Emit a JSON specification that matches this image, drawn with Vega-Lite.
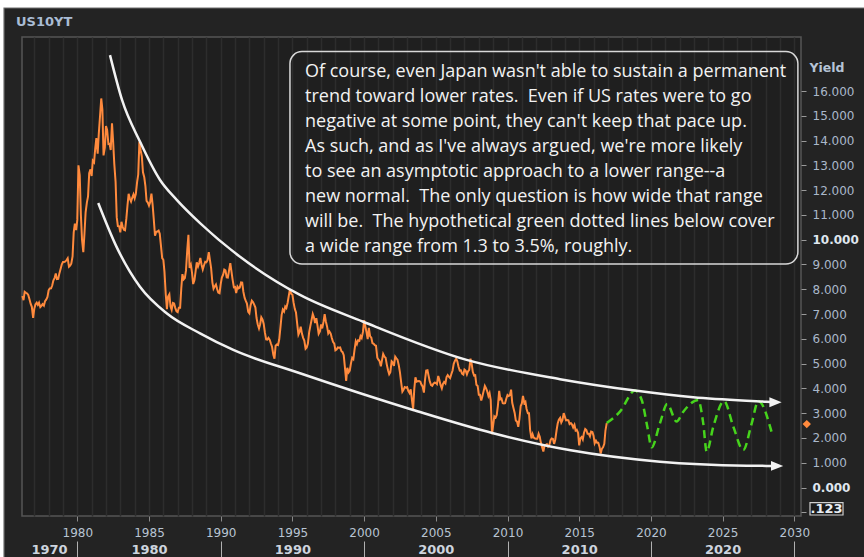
{
  "$schema": "https://vega.github.io/schema/vega-lite/v6.json",
  "width": 779,
  "height": 479,
  "autosize": "none",
  "padding": {"left": 22, "top": 37, "right": 63, "bottom": 41},
  "background": "#232323",
  "config": {
    "font": "DejaVu Sans",
    "view": {"fill": "#1f1f1f", "stroke": "#555555", "strokeWidth": 1.5},
    "axis": {"labelFont": "DejaVu Sans", "labelFontSize": 12, "grid": false, "domain": false}
  },
  "datasets": {
    "yld": [
      {"t":1976.17,"v":7.73},{"t":1976.25,"v":7.56},{"t":1976.33,"v":7.90},{"t":1976.42,"v":7.86},{"t":1976.50,"v":7.83},{"t":1976.58,"v":7.77},{"t":1976.67,"v":7.59},{"t":1976.75,"v":7.41},{"t":1976.83,"v":7.29},{"t":1976.92,"v":6.85},
      {"t":1977.00,"v":7.21},{"t":1977.08,"v":7.39},{"t":1977.17,"v":7.46},{"t":1977.25,"v":7.37},{"t":1977.33,"v":7.46},{"t":1977.42,"v":7.28},{"t":1977.50,"v":7.33},{"t":1977.58,"v":7.40},{"t":1977.67,"v":7.34},{"t":1977.75,"v":7.52},{"t":1977.83,"v":7.58},{"t":1977.92,"v":7.69},
      {"t":1978.00,"v":7.96},{"t":1978.08,"v":8.03},{"t":1978.17,"v":8.04},{"t":1978.25,"v":8.15},{"t":1978.33,"v":8.35},{"t":1978.42,"v":8.46},{"t":1978.50,"v":8.64},{"t":1978.58,"v":8.41},{"t":1978.67,"v":8.42},{"t":1978.75,"v":8.64},{"t":1978.83,"v":8.81},{"t":1978.92,"v":9.01},
      {"t":1979.00,"v":9.10},{"t":1979.08,"v":9.10},{"t":1979.17,"v":9.12},{"t":1979.25,"v":9.18},{"t":1979.33,"v":9.25},{"t":1979.42,"v":8.91},{"t":1979.50,"v":8.95},{"t":1979.58,"v":9.03},{"t":1979.67,"v":9.33},{"t":1979.75,"v":10.30},{"t":1979.83,"v":10.65},{"t":1979.92,"v":10.39},
      {"t":1980.00,"v":10.80},{"t":1980.08,"v":13.00},{"t":1980.17,"v":12.60},{"t":1980.25,"v":11.00},{"t":1980.33,"v":10.00},{"t":1980.42,"v":9.50},{"t":1980.50,"v":10.25},{"t":1980.58,"v":11.10},{"t":1980.67,"v":11.51},{"t":1980.75,"v":11.75},{"t":1980.83,"v":12.68},{"t":1980.92,"v":12.84},
      {"t":1981.00,"v":12.57},{"t":1981.08,"v":13.19},{"t":1981.17,"v":13.12},{"t":1981.25,"v":13.68},{"t":1981.33,"v":14.10},{"t":1981.42,"v":13.47},{"t":1981.50,"v":14.28},{"t":1981.58,"v":14.94},{"t":1981.67,"v":15.70},{"t":1981.75,"v":15.25},{"t":1981.83,"v":13.40},{"t":1981.92,"v":13.72},
      {"t":1982.00,"v":14.59},{"t":1982.08,"v":14.43},{"t":1982.17,"v":13.86},{"t":1982.25,"v":13.87},{"t":1982.33,"v":13.62},{"t":1982.42,"v":14.70},{"t":1982.50,"v":13.95},{"t":1982.58,"v":13.06},{"t":1982.67,"v":12.34},{"t":1982.75,"v":10.91},{"t":1982.83,"v":10.55},{"t":1982.92,"v":10.54},
      {"t":1983.00,"v":10.30},{"t":1983.08,"v":10.72},{"t":1983.17,"v":10.51},{"t":1983.25,"v":10.40},{"t":1983.33,"v":10.38},{"t":1983.42,"v":10.85},{"t":1983.50,"v":11.38},{"t":1983.58,"v":11.85},{"t":1983.67,"v":11.65},{"t":1983.75,"v":11.54},{"t":1983.83,"v":11.69},{"t":1983.92,"v":11.83},
      {"t":1984.00,"v":11.67},{"t":1984.08,"v":11.84},{"t":1984.17,"v":12.32},{"t":1984.25,"v":12.63},{"t":1984.33,"v":13.95},{"t":1984.42,"v":13.60},{"t":1984.50,"v":13.36},{"t":1984.58,"v":12.72},{"t":1984.67,"v":12.52},{"t":1984.75,"v":12.16},{"t":1984.83,"v":11.57},{"t":1984.92,"v":11.50},
      {"t":1985.00,"v":11.38},{"t":1985.08,"v":11.51},{"t":1985.17,"v":11.86},{"t":1985.25,"v":11.43},{"t":1985.33,"v":10.85},{"t":1985.42,"v":10.16},{"t":1985.50,"v":10.31},{"t":1985.58,"v":10.33},{"t":1985.67,"v":10.37},{"t":1985.75,"v":10.24},{"t":1985.83,"v":9.78},{"t":1985.92,"v":9.26},
      {"t":1986.00,"v":9.19},{"t":1986.08,"v":8.70},{"t":1986.17,"v":7.78},{"t":1986.25,"v":7.20},{"t":1986.33,"v":7.71},{"t":1986.42,"v":7.80},{"t":1986.50,"v":7.30},{"t":1986.58,"v":7.17},{"t":1986.67,"v":7.45},{"t":1986.75,"v":7.43},{"t":1986.83,"v":7.25},{"t":1986.92,"v":7.11},
      {"t":1987.00,"v":7.08},{"t":1987.08,"v":7.25},{"t":1987.17,"v":7.25},{"t":1987.25,"v":8.02},{"t":1987.33,"v":8.61},{"t":1987.42,"v":8.40},{"t":1987.50,"v":8.45},{"t":1987.58,"v":8.76},{"t":1987.67,"v":9.60},{"t":1987.75,"v":10.20},{"t":1987.83,"v":8.86},{"t":1987.92,"v":8.99},
      {"t":1988.00,"v":8.67},{"t":1988.08,"v":8.21},{"t":1988.17,"v":8.37},{"t":1988.25,"v":8.72},{"t":1988.33,"v":9.09},{"t":1988.42,"v":8.92},{"t":1988.50,"v":9.06},{"t":1988.58,"v":9.26},{"t":1988.67,"v":8.98},{"t":1988.75,"v":8.80},{"t":1988.83,"v":8.96},{"t":1988.92,"v":9.11},
      {"t":1989.00,"v":9.09},{"t":1989.08,"v":9.17},{"t":1989.17,"v":9.50},{"t":1989.25,"v":9.18},{"t":1989.33,"v":8.86},{"t":1989.42,"v":8.28},{"t":1989.50,"v":8.02},{"t":1989.58,"v":8.11},{"t":1989.67,"v":8.19},{"t":1989.75,"v":8.01},{"t":1989.83,"v":7.87},{"t":1989.92,"v":7.84},
      {"t":1990.00,"v":8.21},{"t":1990.08,"v":8.47},{"t":1990.17,"v":8.59},{"t":1990.25,"v":8.79},{"t":1990.33,"v":8.76},{"t":1990.42,"v":8.48},{"t":1990.50,"v":8.47},{"t":1990.58,"v":8.75},{"t":1990.67,"v":9.05},{"t":1990.75,"v":8.72},{"t":1990.83,"v":8.39},{"t":1990.92,"v":8.08},
      {"t":1991.00,"v":8.09},{"t":1991.08,"v":7.85},{"t":1991.17,"v":8.11},{"t":1991.25,"v":8.04},{"t":1991.33,"v":8.07},{"t":1991.42,"v":8.28},{"t":1991.50,"v":8.27},{"t":1991.58,"v":7.90},{"t":1991.67,"v":7.65},{"t":1991.75,"v":7.53},{"t":1991.83,"v":7.42},{"t":1991.92,"v":7.09},
      {"t":1992.00,"v":7.03},{"t":1992.08,"v":7.34},{"t":1992.17,"v":7.54},{"t":1992.25,"v":7.48},{"t":1992.33,"v":7.39},{"t":1992.42,"v":7.26},{"t":1992.50,"v":6.84},{"t":1992.58,"v":6.59},{"t":1992.67,"v":6.42},{"t":1992.75,"v":6.59},{"t":1992.83,"v":6.87},{"t":1992.92,"v":6.77},
      {"t":1993.00,"v":6.60},{"t":1993.08,"v":6.26},{"t":1993.17,"v":5.98},{"t":1993.25,"v":5.97},{"t":1993.33,"v":6.04},{"t":1993.42,"v":5.96},{"t":1993.50,"v":5.81},{"t":1993.58,"v":5.68},{"t":1993.67,"v":5.36},{"t":1993.75,"v":5.20},{"t":1993.83,"v":5.72},{"t":1993.92,"v":5.77},
      {"t":1994.00,"v":5.75},{"t":1994.08,"v":5.97},{"t":1994.17,"v":6.48},{"t":1994.25,"v":6.97},{"t":1994.33,"v":7.18},{"t":1994.42,"v":7.10},{"t":1994.50,"v":7.30},{"t":1994.58,"v":7.24},{"t":1994.67,"v":7.46},{"t":1994.75,"v":7.74},{"t":1994.83,"v":8.00},{"t":1994.92,"v":7.81},
      {"t":1995.00,"v":7.78},{"t":1995.08,"v":7.47},{"t":1995.17,"v":7.20},{"t":1995.25,"v":7.06},{"t":1995.33,"v":6.63},{"t":1995.42,"v":6.17},{"t":1995.50,"v":6.28},{"t":1995.58,"v":6.49},{"t":1995.67,"v":6.20},{"t":1995.75,"v":6.04},{"t":1995.83,"v":5.93},{"t":1995.92,"v":5.60},
      {"t":1996.00,"v":5.65},{"t":1996.08,"v":5.81},{"t":1996.17,"v":6.27},{"t":1996.25,"v":6.51},{"t":1996.33,"v":6.74},{"t":1996.42,"v":7.00},{"t":1996.50,"v":6.87},{"t":1996.58,"v":6.64},{"t":1996.67,"v":6.83},{"t":1996.75,"v":6.53},{"t":1996.83,"v":6.20},{"t":1996.92,"v":6.30},
      {"t":1997.00,"v":6.58},{"t":1997.08,"v":6.42},{"t":1997.17,"v":6.69},{"t":1997.25,"v":7.00},{"t":1997.33,"v":6.71},{"t":1997.42,"v":6.49},{"t":1997.50,"v":6.22},{"t":1997.58,"v":6.30},{"t":1997.67,"v":6.21},{"t":1997.75,"v":6.03},{"t":1997.83,"v":5.88},{"t":1997.92,"v":5.81},
      {"t":1998.00,"v":5.54},{"t":1998.08,"v":5.57},{"t":1998.17,"v":5.65},{"t":1998.25,"v":5.64},{"t":1998.33,"v":5.65},{"t":1998.42,"v":5.50},{"t":1998.50,"v":5.46},{"t":1998.58,"v":5.34},{"t":1998.67,"v":4.81},{"t":1998.75,"v":4.30},{"t":1998.83,"v":4.83},{"t":1998.92,"v":4.65},
      {"t":1999.00,"v":4.72},{"t":1999.08,"v":5.00},{"t":1999.17,"v":5.23},{"t":1999.25,"v":5.18},{"t":1999.33,"v":5.54},{"t":1999.42,"v":5.90},{"t":1999.50,"v":5.79},{"t":1999.58,"v":5.94},{"t":1999.67,"v":5.92},{"t":1999.75,"v":6.11},{"t":1999.83,"v":6.03},{"t":1999.92,"v":6.28},
      {"t":2000.00,"v":6.75},{"t":2000.08,"v":6.52},{"t":2000.17,"v":6.26},{"t":2000.25,"v":5.99},{"t":2000.33,"v":6.44},{"t":2000.42,"v":6.10},{"t":2000.50,"v":6.05},{"t":2000.58,"v":5.83},{"t":2000.67,"v":5.80},{"t":2000.75,"v":5.74},{"t":2000.83,"v":5.72},{"t":2000.92,"v":5.24},
      {"t":2001.00,"v":5.16},{"t":2001.08,"v":5.10},{"t":2001.17,"v":4.89},{"t":2001.25,"v":5.14},{"t":2001.33,"v":5.39},{"t":2001.42,"v":5.28},{"t":2001.50,"v":5.24},{"t":2001.58,"v":4.97},{"t":2001.67,"v":4.73},{"t":2001.75,"v":4.57},{"t":2001.83,"v":4.65},{"t":2001.92,"v":5.09},
      {"t":2002.00,"v":5.04},{"t":2002.08,"v":4.91},{"t":2002.17,"v":5.28},{"t":2002.25,"v":5.21},{"t":2002.33,"v":5.16},{"t":2002.42,"v":4.93},{"t":2002.50,"v":4.65},{"t":2002.58,"v":4.26},{"t":2002.67,"v":3.87},{"t":2002.75,"v":3.94},{"t":2002.83,"v":4.05},{"t":2002.92,"v":4.03},
      {"t":2003.00,"v":4.05},{"t":2003.08,"v":3.90},{"t":2003.17,"v":3.81},{"t":2003.25,"v":3.96},{"t":2003.33,"v":3.57},{"t":2003.42,"v":3.15},{"t":2003.50,"v":3.98},{"t":2003.58,"v":4.45},{"t":2003.67,"v":4.27},{"t":2003.75,"v":4.29},{"t":2003.83,"v":4.30},{"t":2003.92,"v":4.27},
      {"t":2004.00,"v":4.15},{"t":2004.08,"v":4.08},{"t":2004.17,"v":3.83},{"t":2004.25,"v":4.35},{"t":2004.33,"v":4.72},{"t":2004.42,"v":4.73},{"t":2004.50,"v":4.50},{"t":2004.58,"v":4.28},{"t":2004.67,"v":4.13},{"t":2004.75,"v":4.10},{"t":2004.83,"v":4.19},{"t":2004.92,"v":4.23},
      {"t":2005.00,"v":4.22},{"t":2005.08,"v":4.17},{"t":2005.17,"v":4.50},{"t":2005.25,"v":4.34},{"t":2005.33,"v":4.14},{"t":2005.42,"v":4.00},{"t":2005.50,"v":4.18},{"t":2005.58,"v":4.26},{"t":2005.67,"v":4.20},{"t":2005.75,"v":4.46},{"t":2005.83,"v":4.54},{"t":2005.92,"v":4.47},
      {"t":2006.00,"v":4.42},{"t":2006.08,"v":4.57},{"t":2006.17,"v":4.72},{"t":2006.25,"v":4.99},{"t":2006.33,"v":5.11},{"t":2006.42,"v":5.20},{"t":2006.50,"v":5.09},{"t":2006.58,"v":4.88},{"t":2006.67,"v":4.72},{"t":2006.75,"v":4.73},{"t":2006.83,"v":4.60},{"t":2006.92,"v":4.56},
      {"t":2007.00,"v":4.76},{"t":2007.08,"v":4.72},{"t":2007.17,"v":4.56},{"t":2007.25,"v":4.69},{"t":2007.33,"v":4.75},{"t":2007.42,"v":5.20},{"t":2007.50,"v":5.00},{"t":2007.58,"v":4.67},{"t":2007.67,"v":4.52},{"t":2007.75,"v":4.53},{"t":2007.83,"v":4.15},{"t":2007.92,"v":4.10},
      {"t":2008.00,"v":3.74},{"t":2008.08,"v":3.74},{"t":2008.17,"v":3.51},{"t":2008.25,"v":3.68},{"t":2008.33,"v":3.88},{"t":2008.42,"v":4.10},{"t":2008.50,"v":4.01},{"t":2008.58,"v":3.89},{"t":2008.67,"v":3.69},{"t":2008.75,"v":3.81},{"t":2008.83,"v":3.53},{"t":2008.92,"v":2.15},
      {"t":2009.00,"v":2.52},{"t":2009.08,"v":2.87},{"t":2009.17,"v":2.82},{"t":2009.25,"v":2.93},{"t":2009.33,"v":3.29},{"t":2009.42,"v":3.90},{"t":2009.50,"v":3.56},{"t":2009.58,"v":3.59},{"t":2009.67,"v":3.40},{"t":2009.75,"v":3.39},{"t":2009.83,"v":3.40},{"t":2009.92,"v":3.59},
      {"t":2010.00,"v":3.73},{"t":2010.08,"v":3.69},{"t":2010.17,"v":3.73},{"t":2010.25,"v":3.95},{"t":2010.33,"v":3.42},{"t":2010.42,"v":3.20},{"t":2010.50,"v":3.01},{"t":2010.58,"v":2.70},{"t":2010.67,"v":2.65},{"t":2010.75,"v":2.45},{"t":2010.83,"v":2.76},{"t":2010.92,"v":3.29},
      {"t":2011.00,"v":3.39},{"t":2011.08,"v":3.70},{"t":2011.17,"v":3.41},{"t":2011.25,"v":3.46},{"t":2011.33,"v":3.17},{"t":2011.42,"v":3.00},{"t":2011.50,"v":3.00},{"t":2011.58,"v":2.30},{"t":2011.67,"v":1.98},{"t":2011.75,"v":2.15},{"t":2011.83,"v":2.01},{"t":2011.92,"v":1.98},
      {"t":2012.00,"v":1.97},{"t":2012.08,"v":1.97},{"t":2012.17,"v":2.17},{"t":2012.25,"v":2.05},{"t":2012.33,"v":1.80},{"t":2012.42,"v":1.62},{"t":2012.50,"v":1.45},{"t":2012.58,"v":1.68},{"t":2012.67,"v":1.72},{"t":2012.75,"v":1.75},{"t":2012.83,"v":1.65},{"t":2012.92,"v":1.72},
      {"t":2013.00,"v":1.91},{"t":2013.08,"v":1.98},{"t":2013.17,"v":1.96},{"t":2013.25,"v":1.76},{"t":2013.33,"v":1.93},{"t":2013.42,"v":2.30},{"t":2013.50,"v":2.58},{"t":2013.58,"v":2.74},{"t":2013.67,"v":2.81},{"t":2013.75,"v":2.62},{"t":2013.83,"v":2.72},{"t":2013.92,"v":3.00},
      {"t":2014.00,"v":2.86},{"t":2014.08,"v":2.71},{"t":2014.17,"v":2.72},{"t":2014.25,"v":2.71},{"t":2014.33,"v":2.56},{"t":2014.42,"v":2.60},{"t":2014.50,"v":2.54},{"t":2014.58,"v":2.42},{"t":2014.67,"v":2.53},{"t":2014.75,"v":2.30},{"t":2014.83,"v":2.33},{"t":2014.92,"v":2.21},
      {"t":2015.00,"v":1.70},{"t":2015.08,"v":1.98},{"t":2015.17,"v":2.04},{"t":2015.25,"v":1.94},{"t":2015.33,"v":2.20},{"t":2015.42,"v":2.36},{"t":2015.50,"v":2.32},{"t":2015.58,"v":2.17},{"t":2015.67,"v":2.17},{"t":2015.75,"v":2.07},{"t":2015.83,"v":2.26},{"t":2015.92,"v":2.24},
      {"t":2016.00,"v":2.09},{"t":2016.08,"v":1.78},{"t":2016.17,"v":1.89},{"t":2016.25,"v":1.81},{"t":2016.33,"v":1.81},{"t":2016.42,"v":1.64},{"t":2016.50,"v":1.37},{"t":2016.58,"v":1.56},{"t":2016.67,"v":1.63},{"t":2016.75,"v":1.76},{"t":2016.83,"v":2.30},{"t":2016.92,"v":2.60}
    ],
    "fcst": [
      {"t":2016.92,"v":2.60},{"t":2017.84,"v":3.06},{"t":2018.89,"v":3.91},{"t":2019.36,"v":3.53},{"t":2019.75,"v":2.45},{"t":2020.05,"v":1.62},{"t":2020.63,"v":2.59},{"t":2021.14,"v":3.37},{"t":2021.79,"v":2.66},{"t":2022.26,"v":3.06},{"t":2023.30,"v":3.53},{"t":2023.65,"v":2.59},{"t":2023.89,"v":1.44},{"t":2024.35,"v":2.45},{"t":2025.10,"v":3.49},{"t":2025.75,"v":2.45},{"t":2026.44,"v":1.51},{"t":2027.03,"v":2.59},{"t":2027.49,"v":3.49},{"t":2028.49,"v":2.08}
    ],
    "up": [
      {"t":1982.28,"v":17.45},{"t":1983.12,"v":15.64},{"t":1984.37,"v":13.96},{"t":1985.77,"v":12.41},{"t":1986.95,"v":11.6},{"t":1988.56,"v":10.67},{"t":1991.35,"v":9.31},{"t":1995.53,"v":7.77},{"t":1999.94,"v":6.69},{"t":2007.15,"v":5.15},{"t":2013.66,"v":4.37},{"t":2018.89,"v":3.91},{"t":2022.95,"v":3.64},{"t":2028.07,"v":3.46},{"t":2028.69,"v":3.44}
    ],
    "lo": [
      {"t":1981.46,"v":11.48},{"t":1982.73,"v":9.72},{"t":1984.37,"v":8.1},{"t":1986.23,"v":7.03},{"t":1988.56,"v":6.22},{"t":1990.88,"v":5.55},{"t":1995.53,"v":4.61},{"t":2003.42,"v":3.13},{"t":2009.0,"v":2.19},{"t":2014.4,"v":1.5},{"t":2020.63,"v":1.04},{"t":2026.68,"v":0.88},{"t":2028.8,"v":0.87}
    ],
    "tips": [{"t":2028.69,"v":3.44},{"t":2028.8,"v":0.87}]
  },
  "layer": [
    {
      "data": {"values": [{}]},
      "mark": {"type": "rect", "fill": "#ffffff"},
      "encoding": {
        "x": {"datum": 1974.0, "type": "quantitative", "scale": {"domain": [1976.144, 2030.467], "nice": false, "zero": false}, "axis": null},
        "x2": {"datum": 2036.0},
        "y": {"datum": 19.35, "type": "quantitative", "scale": {"domain": [-1.15, 18.18], "nice": false, "zero": false}, "axis": null},
        "y2": {"datum": 20.5}
      }
    },
    {
      "data": {"values": [{}]},
      "mark": {"type": "rect", "fill": "#ffffff"},
      "encoding": {
        "x": {"datum": 1974.0, "type": "quantitative", "axis": null},
        "x2": {"datum": 1974.889},
        "y": {"datum": 20.5, "type": "quantitative", "axis": null},
        "y2": {"datum": -3.5}
      }
    },
    {
      "data": {"values": [{}]},
      "mark": {"type": "rect", "fillOpacity": 0, "stroke": "#6e6e6e", "strokeWidth": 1.2},
      "encoding": {
        "x": {"datum": 1974.889, "type": "quantitative", "axis": null},
        "x2": {"datum": 2036.0},
        "y": {"datum": 19.35, "type": "quantitative", "axis": null},
        "y2": {"datum": -3.5}
      }
    },
    {
      "data": {"values": [{}]},
      "mark": {"type": "text", "text": "US10YT", "align": "left", "baseline": "middle", "font": "DejaVu Sans", "fontSize": 13, "fontWeight": "bold", "color": "#a9bcd4"},
      "encoding": {
        "x": {"datum": 1975.726, "type": "quantitative", "axis": null},
        "y": {"datum": 18.785, "type": "quantitative", "axis": null}
      }
    },
    {
      "data": {"name": "yld"},
      "mark": {"type": "line", "color": "#ff8a3d", "strokeWidth": 2},
      "encoding": {
        "x": {"field": "t", "type": "quantitative", "scale": {"domain": [1976.144, 2030.467], "nice": false, "zero": false},
          "axis": {"orient": "bottom", "values": [1980, 1985, 1990, 1995, 2000, 2005, 2010, 2015, 2020, 2025, 2030], "format": "d", "labelColor": "#b8c4d2", "tickColor": "#8a8a8a", "tickSize": 5, "labelPadding": 6, "labelFlush": false, "labelOverlap": false, "title": null}},
        "y": {"field": "v", "type": "quantitative", "scale": {"domain": [-1.15, 18.18], "nice": false, "zero": false},
          "axis": {"orient": "right", "values": [-1, 0, 1, 2, 3, 4, 5, 6, 7, 8, 9, 10, 11, 12, 13, 14, 15, 16],
            "labelExpr": "datum.value == -1 ? '' : format(datum.value, '.3f')",
            "labelColor": {"condition": {"test": "datum.value == 0 || datum.value == 10", "value": "#dfe6ee"}, "value": "#aab8ca"},
            "labelFontWeight": {"condition": {"test": "datum.value == 0 || datum.value == 10", "value": "bold"}, "value": "normal"},
            "tickColor": "#9a9a9a", "tickSize": 5, "labelPadding": 6, "labelFlush": false, "labelOverlap": false,
            "title": "Yield", "titleAngle": 0, "titleX": 8, "titleY": 30, "titleAlign": "left", "titleBaseline": "middle", "titleColor": "#b6c4d6", "titleFont": "DejaVu Sans", "titleFontSize": 12.5, "titleFontWeight": "bold"}}
      }
    },
    {
      "data": {"name": "fcst"},
      "mark": {"type": "line", "color": "#46d41c", "strokeWidth": 2.5, "strokeDash": [8, 5], "interpolate": "monotone"},
      "encoding": {
        "x": {"field": "t", "type": "quantitative",
          "axis": {"orient": "bottom", "values": [1977,1978,1979,1980,1981,1982,1983,1984,1985,1986,1987,1988,1989,1990,1991,1992,1993,1994,1995,1996,1997,1998,1999,2000,2001,2002,2003,2004,2005,2006,2007,2008,2009,2010,2011,2012,2013,2014,2015,2016,2017,2018,2019,2020,2021,2022,2023,2024,2025,2026,2027,2028,2029,2030], "labels": false, "ticks": false, "grid": true, "gridColor": "#2d2d2d", "gridWidth": 1.5, "title": null}},
        "y": {"field": "v", "type": "quantitative", "axis": null}
      }
    },
    {
      "data": {"name": "up"},
      "mark": {"type": "line", "color": "#f2f2f2", "strokeWidth": 2.5, "interpolate": "monotone"},
      "encoding": {
        "x": {"field": "t", "type": "quantitative",
          "axis": {"orient": "bottom", "values": [1980, 1990, 2000, 2010, 2020, 2030], "labels": false, "tickSize": 16, "offset": 25, "tickColor": "#b0b0b0", "tickWidth": 1, "title": null}},
        "y": {"field": "v", "type": "quantitative", "axis": null}
      }
    },
    {
      "data": {"name": "lo"},
      "mark": {"type": "line", "color": "#f2f2f2", "strokeWidth": 2.5, "interpolate": "monotone"},
      "encoding": {
        "x": {"field": "t", "type": "quantitative",
          "axis": {"orient": "bottom", "values": [1978.03, 1985, 1995, 2005, 2015, 2025], "ticks": false, "labelExpr": "datum.value < 1980 ? '1970' : format(datum.value - 5, 'd')", "labelFontWeight": "bold", "labelFontSize": 13, "labelColor": "#cdd4de", "labelPadding": 27, "labelFlush": false, "labelOverlap": false, "title": null}},
        "y": {"field": "v", "type": "quantitative", "axis": null}
      }
    },
    {
      "data": {"name": "tips"},
      "mark": {"type": "point", "shape": "M -1 -0.8 L 1 0 L -1 0.8 Z", "filled": true, "color": "#f2f2f2", "opacity": 1, "size": 150},
      "encoding": {
        "x": {"field": "t", "type": "quantitative", "axis": null},
        "y": {"field": "v", "type": "quantitative", "axis": null}
      }
    },
    {
      "data": {"values": [{}]},
      "mark": {"type": "rect", "fillOpacity": 0, "stroke": "#d8d8d8", "strokeWidth": 1.5, "cornerRadius": 12},
      "encoding": {
        "x": {"datum": 1994.83, "type": "quantitative", "axis": null},
        "x2": {"datum": 2030.25},
        "y": {"datum": 17.59, "type": "quantitative", "axis": null},
        "y2": {"datum": 9.02}
      }
    },
    {
      "data": {"values": [{}]},
      "mark": {"type": "text", "align": "left", "baseline": "alphabetic", "font": "Open Sans", "fontSize": 18, "lineHeight": 25, "color": "#f2f2f2",
        "text": ["Of course, even Japan wasn't able to sustain a permanent", "trend toward lower rates.\u00a0 Even if US rates were to go", "negative at some point, they can't keep that pace up.", "As such, and as I've always argued, we're more likely", "to see an asymptotic approach to a lower range--a", "new normal.\u00a0 The only question is how wide that range", "will be.\u00a0 The hypothetical green dotted lines below cover", "\u00a0a wide range from 1.3 to 3.5%, roughly."]},
      "encoding": {
        "x": {"datum": 1995.88, "type": "quantitative", "axis": null},
        "y": {"datum": 16.578, "type": "quantitative", "axis": null}
      }
    },
    {
      "data": {"values": [{}]},
      "mark": {"type": "point", "shape": "diamond", "filled": true, "color": "#ff8a3d", "opacity": 1, "size": 70},
      "encoding": {
        "x": {"datum": 2030.87, "type": "quantitative", "axis": null},
        "y": {"datum": 2.56, "type": "quantitative", "axis": null}
      }
    },
    {
      "data": {"values": [{}]},
      "mark": {"type": "rect", "fill": "#1b1b1b", "stroke": "#cfcfcf", "strokeWidth": 1.2},
      "encoding": {
        "x": {"datum": 2031.095, "type": "quantitative", "axis": null},
        "x2": {"datum": 2033.397},
        "y": {"datum": -0.613, "type": "quantitative", "axis": null},
        "y2": {"datum": -1.11}
      }
    },
    {
      "data": {"values": [{}]},
      "mark": {"type": "text", "text": ".123", "align": "center", "baseline": "middle", "font": "DejaVu Sans", "fontSize": 13, "fontWeight": "bold", "color": "#e8edf3"},
      "encoding": {
        "x": {"datum": 2032.246, "type": "quantitative", "axis": null},
        "y": {"datum": -0.867, "type": "quantitative", "axis": null}
      }
    }
  ],
  "resolve": {"axis": {"x": "independent", "y": "independent"}}
}
